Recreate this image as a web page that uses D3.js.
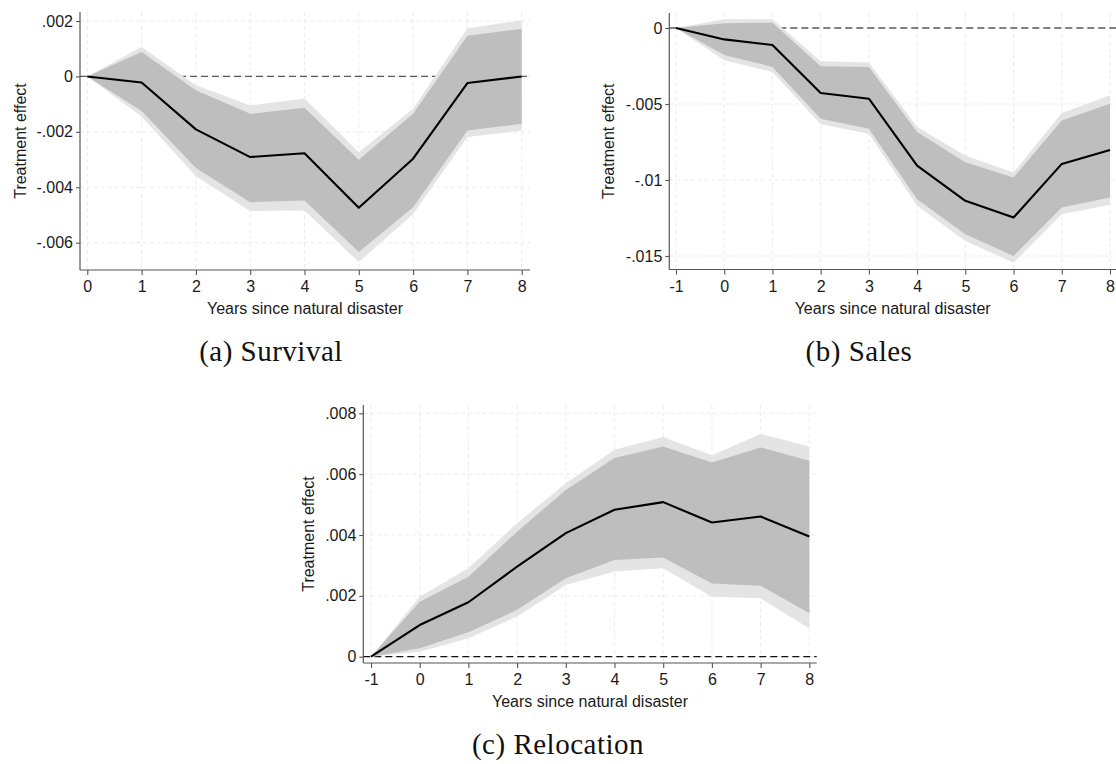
<!DOCTYPE html>
<html>
<head>
<meta charset="utf-8">
<script src="https://cdn.jsdelivr.net/npm/d3@7"></script>
<style>
  html, body { margin: 0; padding: 0; background: #ffffff; }
  svg { display: block; }
  .tick text { font-family: "Liberation Sans", Arial, sans-serif; font-size: 16px; fill: #1a1a1a; }
  .axis-title { font-family: "Liberation Sans", Arial, sans-serif; font-size: 16px; fill: #1a1a1a; }
  .caption { font-family: "Liberation Serif", "Times New Roman", serif; font-size: 29px; letter-spacing: 0.5px; fill: #111; }
</style>
</head>
<body>
<svg id="fig" width="1116" height="764"></svg>
<script>
// ---- Data: event-study estimates with two confidence bands ----

// (a) Survival
const survivalYears = [0, 1, 2, 3, 4, 5, 6, 7, 8];
const survivalEffect = [0, -0.00022, -0.00191, -0.00291, -0.00277, -0.00474, -0.00297, -0.00024, 0.0];
const survivalInnerLow = [0, -0.00125, -0.0033, -0.00454, -0.00448, -0.00634, -0.00472, -0.00195, -0.00171];
const survivalInnerHigh = [0, 0.00088, -0.0005, -0.00135, -0.00113, -0.00301, -0.00135, 0.00147, 0.00172];
const survivalOuterLow = [0, -0.00145, -0.0036, -0.00486, -0.00484, -0.0067, -0.00496, -0.00219, -0.00195];
const survivalOuterHigh = [0, 0.00106, -0.00032, -0.00105, -0.0008, -0.00274, -0.00117, 0.00174, 0.00202];
const survivalYTicks = [0.002, 0, -0.002, -0.004, -0.006];
const survivalYTickLabels = [".002", "0", "-.002", "-.004", "-.006"];

// (b) Sales
const salesYears = [-1, 0, 1, 2, 3, 4, 5, 6, 7, 8];
const salesEffect = [0, -0.00075, -0.00112, -0.00428, -0.00465, -0.00905, -0.01137, -0.01247, -0.00894, -0.00802];
const salesInnerLow = [0, -0.00178, -0.00256, -0.00597, -0.00663, -0.01126, -0.01357, -0.015, -0.01181, -0.01115];
const salesInnerHigh = [0, 0.00031, 0.00035, -0.00251, -0.00256, -0.00685, -0.00883, -0.00983, -0.00608, -0.00498];
const salesOuterLow = [0, -0.00212, -0.00289, -0.00634, -0.00696, -0.0117, -0.01401, -0.01544, -0.01225, -0.01163];
const salesOuterHigh = [0, 0.00057, 0.00057, -0.00218, -0.00227, -0.00652, -0.00839, -0.0095, -0.00559, -0.00443];
const salesYTicks = [0, -0.005, -0.01, -0.015];
const salesYTickLabels = ["0", "-.005", "-.01", "-.015"];

// (c) Relocation
const relocationYears = [-1, 0, 1, 2, 3, 4, 5, 6, 7, 8];
const relocationEffect = [0, 0.00104, 0.00179, 0.00296, 0.00406, 0.00483, 0.00508, 0.00441, 0.00461, 0.00395];
const relocationInnerLow = [0, 0.00028, 0.0008, 0.00154, 0.00258, 0.00318, 0.00326, 0.00241, 0.00233, 0.00143];
const relocationInnerHigh = [0, 0.00181, 0.00263, 0.00411, 0.00548, 0.00653, 0.00691, 0.00638, 0.00688, 0.00644];
const relocationOuterLow = [0, 0.00016, 0.00061, 0.00132, 0.00236, 0.0028, 0.00291, 0.00197, 0.00192, 0.00093];
const relocationOuterHigh = [0, 0.00197, 0.00291, 0.00439, 0.0057, 0.0068, 0.00722, 0.00662, 0.00732, 0.00691];
const relocationYTicks = [0.008, 0.006, 0.004, 0.002, 0];
const relocationYTickLabels = [".008", ".006", ".004", ".002", "0"];

const xTitle = "Years since natural disaster";
const yTitle = "Treatment effect";
const captions = ["(a) Survival", "(b) Sales", "(c) Relocation"];

// ---- Layout of the three panels (pixels) ----
const panels = [
  {
    years: survivalYears, effect: survivalEffect,
    innerLow: survivalInnerLow, innerHigh: survivalInnerHigh,
    outerLow: survivalOuterLow, outerHigh: survivalOuterHigh,
    yTicks: survivalYTicks, yTickLabels: survivalYTickLabels,
    frame: { left: 80, right: 530, top: 12, bottom: 270 },
    xPix: [87.3, 521.7], yPix: [242.7, 21],
    yTitleX: 26, zeroColor: "#5a5a5a",
    caption: captions[0], captionX: 271, captionY: 361
  },
  {
    years: salesYears, effect: salesEffect,
    innerLow: salesInnerLow, innerHigh: salesInnerHigh,
    outerLow: salesOuterLow, outerHigh: salesOuterHigh,
    yTicks: salesYTicks, yTickLabels: salesYTickLabels,
    frame: { left: 669.3, right: 1116, top: 13, bottom: 269.5 },
    xPix: [676, 1110], yPix: [256, 28],
    yTitleX: 614, zeroColor: "#5a5a5a",
    caption: captions[1], captionX: 859, captionY: 361
  },
  {
    years: relocationYears, effect: relocationEffect,
    innerLow: relocationInnerLow, innerHigh: relocationInnerHigh,
    outerLow: relocationOuterLow, outerHigh: relocationOuterHigh,
    yTicks: relocationYTicks, yTickLabels: relocationYTickLabels,
    frame: { left: 363.3, right: 816.7, top: 405, bottom: 663 },
    xPix: [371, 809.3], yPix: [656.7, 413.3],
    yTitleX: 314, zeroColor: "#111111",
    caption: captions[2], captionX: 558, captionY: 754
  }
];

const svg = d3.select("#fig");

panels.forEach(p => {
  const f = p.frame;
  const g = svg.append("g");

  const x = d3.scaleLinear()
    .domain([d3.min(p.years), d3.max(p.years)])
    .range(p.xPix);
  const y = d3.scaleLinear()
    .domain([d3.min(p.yTicks), d3.max(p.yTicks)])
    .range(p.yPix);

  // light dashed grid
  g.append("g").selectAll("line").data(p.years).join("line")
    .attr("x1", d => x(d)).attr("x2", d => x(d))
    .attr("y1", f.top).attr("y2", f.bottom)
    .attr("stroke", "#ebebeb").attr("stroke-width", 1)
    .attr("stroke-dasharray", "4,3");
  g.append("g").selectAll("line").data(p.yTicks).join("line")
    .attr("x1", f.left).attr("x2", f.right)
    .attr("y1", d => y(d)).attr("y2", d => y(d))
    .attr("stroke", "#ebebeb").attr("stroke-width", 1)
    .attr("stroke-dasharray", "4,3");

  // reference line at zero
  g.append("line")
    .attr("x1", f.left).attr("x2", f.right)
    .attr("y1", y(0)).attr("y2", y(0))
    .attr("stroke", p.zeroColor).attr("stroke-width", 1.3)
    .attr("stroke-dasharray", "7,4");

  const idx = d3.range(p.years.length);
  const band = (lo, hi) => d3.area()
    .x(i => x(p.years[i]))
    .y0(i => y(lo[i]))
    .y1(i => y(hi[i]));

  // outer (wider) band, then inner band
  g.append("path").datum(idx)
    .attr("d", band(p.outerLow, p.outerHigh))
    .attr("fill", "#e4e4e4");
  g.append("path").datum(idx)
    .attr("d", band(p.innerLow, p.innerHigh))
    .attr("fill", "#bebebe");

  // point estimates
  g.append("path").datum(idx)
    .attr("d", d3.line().x(i => x(p.years[i])).y(i => y(p.effect[i])))
    .attr("fill", "none").attr("stroke", "#000").attr("stroke-width", 2.1)
    .attr("stroke-linejoin", "round");

  // axes
  const xAxis = g.append("g")
    .attr("transform", `translate(0,${f.bottom})`)
    .call(d3.axisBottom(x).tickValues(p.years).tickFormat(d => `${d}`)
      .tickSize(5).tickSizeOuter(0).tickPadding(6));
  xAxis.select(".domain").attr("d", `M${f.left},0H${f.right}`);

  const labelOf = new Map(p.yTicks.map((v, i) => [v, p.yTickLabels[i]]));
  const yAxis = g.append("g")
    .attr("transform", `translate(${f.left},0)`)
    .call(d3.axisLeft(y).tickValues(p.yTicks).tickFormat(d => labelOf.get(d))
      .tickSize(4).tickSizeOuter(0).tickPadding(3));
  yAxis.select(".domain").attr("d", `M0,${f.top}V${f.bottom}`);

  [xAxis, yAxis].forEach(a => {
    a.select(".domain").attr("stroke", "#555").attr("stroke-width", 1.2);
    a.selectAll(".tick line").attr("stroke", "#555").attr("stroke-width", 1.1);
  });

  // axis titles
  g.append("text").attr("class", "axis-title")
    .attr("x", (f.left + f.right) / 2).attr("y", f.bottom + 44)
    .attr("text-anchor", "middle").text(xTitle);
  g.append("text").attr("class", "axis-title")
    .attr("transform", `translate(${p.yTitleX},${(f.top + f.bottom) / 2}) rotate(-90)`)
    .attr("text-anchor", "middle").text(yTitle);

  // subfigure caption
  svg.append("text").attr("class", "caption")
    .attr("x", p.captionX).attr("y", p.captionY)
    .attr("text-anchor", "middle").text(p.caption);
});
</script>
</body>
</html>
